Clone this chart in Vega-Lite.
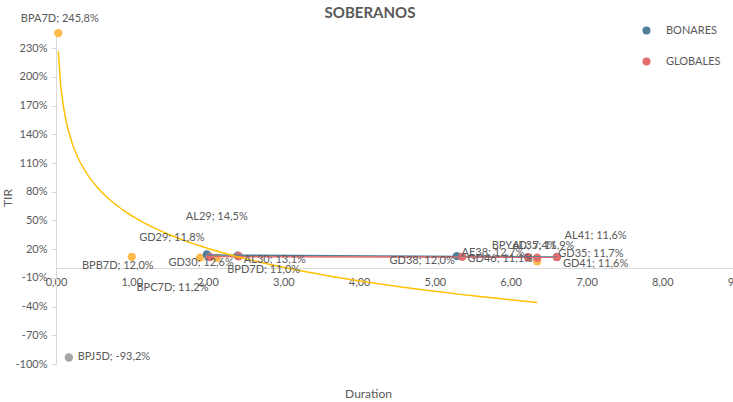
{
  "$schema": "https://vega.github.io/schema/vega-lite/v6.json",
  "width": 682,
  "height": 333,
  "autosize": {"type": "none"},
  "padding": {"left": 56, "top": 31, "right": -5, "bottom": 38},
  "background": "white",
  "config": {"view": {"stroke": null}, "font": "Lato"},
  "title": {"text": "SOBERANOS", "fontSize": 15, "fontWeight": "bold", "color": "#595959", "font": "Lato", "anchor": "middle", "frame": "group", "dx": -27, "offset": 10, "baseline": "bottom", "dy": 33},
  "data": {"values": [
    {"name": "BPJ5D", "series": "OTROS", "duration": 0.17, "tir": -93.2},
    {"name": "BPA7D", "series": "BOPREAL", "duration": 0.03, "tir": 245.8},
    {"name": "BPB7D", "series": "BOPREAL", "duration": 1.0, "tir": 12.0},
    {"name": "BPC7D", "series": "BOPREAL", "duration": 1.9, "tir": 11.2},
    {"name": "BPD7D", "series": "BOPREAL", "duration": 2.12, "tir": 11.0},
    {"name": "BPY6D", "series": "BOPREAL", "duration": 6.35, "tir": 7.4},
    {"name": "AL29", "series": "BONARES", "duration": 1.99, "tir": 14.5},
    {"name": "AL30", "series": "BONARES", "duration": 2.4, "tir": 13.1},
    {"name": "AE38", "series": "BONARES", "duration": 5.29, "tir": 12.7},
    {"name": "AL41", "series": "BONARES", "duration": 6.23, "tir": 11.6},
    {"name": "AL35", "series": "BONARES", "duration": 6.61, "tir": 11.9},
    {"name": "GD29", "series": "GLOBALES", "duration": 2.03, "tir": 11.8},
    {"name": "GD30", "series": "GLOBALES", "duration": 2.41, "tir": 12.6},
    {"name": "GD38", "series": "GLOBALES", "duration": 5.36, "tir": 12.0},
    {"name": "GD41", "series": "GLOBALES", "duration": 6.23, "tir": 11.6},
    {"name": "GD46", "series": "GLOBALES", "duration": 6.35, "tir": 11.1},
    {"name": "GD35", "series": "GLOBALES", "duration": 6.61, "tir": 11.7}
  ]},
  "transform": [
    {"calculate": "datum.name + '; ' + (datum.tir < 0 ? '-' : '') + replace(format(abs(datum.tir), '.1f'), '.', ',') + '%'", "as": "label"}
  ],
  "encoding": {
    "x": {"field": "duration", "type": "quantitative",
      "scale": {"domain": [0, 9], "nice": false, "zero": false},
      "axis": {"values": [0, 1, 2, 3, 4, 5, 6, 7, 8, 9], "labelExpr": "replace(format(datum.value, '.2f'), '.', ',')", "offset": -96, "grid": false, "ticks": false, "domainColor": "#D9D9D9", "labelColor": "#595959", "labelFontSize": 11, "labelPadding": 8, "labelFlush": false, "labelOverlap": false, "title": "Duration", "titleFontSize": 12, "titleFontWeight": "normal", "titleColor": "#595959", "titleX": 312, "titleY": 125, "titleBaseline": "middle", "titleAlign": "center"}},
    "y": {"field": "tir", "type": "quantitative",
      "scale": {"domain": [-100, 248], "nice": false, "zero": false},
      "axis": {"values": [-100, -70, -40, -10, 20, 50, 80, 110, 140, 170, 200, 230], "labelExpr": "datum.value + '%'", "grid": false, "tickSize": 5, "tickColor": "#D9D9D9", "domainColor": "#D9D9D9", "labelColor": "#595959", "labelFontSize": 11, "labelPadding": 4, "title": "TIR", "titleFontSize": 12, "titleFontWeight": "normal", "titleColor": "#595959", "titlePadding": 0}}
  },
  "layer": [
    {"mark": {"type": "circle", "size": 70, "opacity": 1},
     "encoding": {"color": {"field": "series", "type": "nominal",
       "scale": {"domain": ["BONARES", "GLOBALES", "BOPREAL", "OTROS"], "range": ["#4E8098", "#E46C6C", "#FFBA4C", "#A6A6A6"]},
       "legend": {"values": ["BONARES", "GLOBALES"], "title": null, "orient": "none", "legendX": 585, "legendY": -6, "symbolType": "circle", "symbolSize": 64, "symbolStrokeWidth": 0, "labelFontSize": 11, "labelColor": "#595959", "labelOffset": 14, "rowPadding": 19, "padding": 0}}}},
    {"transform": [{"filter": "datum.series === 'BONARES'"}, {"regression": "tir", "on": "duration", "method": "linear"}],
     "mark": {"type": "line", "color": "#4E8098", "strokeWidth": 1.5}},
    {"transform": [{"filter": "datum.series === 'GLOBALES'"}, {"regression": "tir", "on": "duration", "method": "linear"}],
     "mark": {"type": "line", "color": "#E46C6C", "strokeWidth": 1.5}},
    {"transform": [{"filter": "datum.series === 'BOPREAL'"}, {"regression": "tir", "on": "duration", "method": "log"}],
     "mark": {"type": "line", "color": "#FFC000", "strokeWidth": 1.5}},
    {"transform": [{"filter": "datum.name === 'BPA7D'"}], "mark": {"type": "text", "fontSize": 11, "color": "#595959", "dx": 1.5, "dy": -14}, "encoding": {"text": {"field": "label"}}},
    {"transform": [{"filter": "datum.name === 'BPJ5D'"}], "mark": {"type": "text", "fontSize": 11, "color": "#595959", "dx": 45, "dy": 0}, "encoding": {"text": {"field": "label"}}},
    {"transform": [{"filter": "datum.name === 'BPB7D'"}], "mark": {"type": "text", "fontSize": 11, "color": "#595959", "dx": -14, "dy": 9.5}, "encoding": {"text": {"field": "label"}}},
    {"transform": [{"filter": "datum.name === 'BPC7D'"}], "mark": {"type": "text", "fontSize": 11, "color": "#595959", "dx": -27.5, "dy": 30.5}, "encoding": {"text": {"field": "label"}}},
    {"transform": [{"filter": "datum.name === 'BPD7D'"}], "mark": {"type": "text", "fontSize": 11, "color": "#595959", "dx": 47, "dy": 12.5}, "encoding": {"text": {"field": "label"}}},
    {"transform": [{"filter": "datum.name === 'AL29'"}], "mark": {"type": "text", "fontSize": 11, "color": "#595959", "dx": 10, "dy": -37}, "encoding": {"text": {"field": "label"}}},
    {"transform": [{"filter": "datum.name === 'GD29'"}], "mark": {"type": "text", "fontSize": 11, "color": "#595959", "dx": -38, "dy": -19}, "encoding": {"text": {"field": "label"}}},
    {"transform": [{"filter": "datum.name === 'AL30'"}], "mark": {"type": "text", "fontSize": 11, "color": "#595959", "dx": 37, "dy": 4.5}, "encoding": {"text": {"field": "label"}}},
    {"transform": [{"filter": "datum.name === 'GD30'"}], "mark": {"type": "text", "fontSize": 11, "color": "#595959", "dx": -37.5, "dy": 7}, "encoding": {"text": {"field": "label"}}},
    {"transform": [{"filter": "datum.name === 'AE38'"}], "mark": {"type": "text", "fontSize": 11, "color": "#595959", "dx": 36, "dy": -3}, "encoding": {"text": {"field": "label"}}},
    {"transform": [{"filter": "datum.name === 'GD38'"}], "mark": {"type": "text", "fontSize": 11, "color": "#595959", "dx": -40, "dy": 4.5}, "encoding": {"text": {"field": "label"}}},
    {"transform": [{"filter": "datum.name === 'AL41'"}], "mark": {"type": "text", "fontSize": 11, "color": "#595959", "dx": 67.5, "dy": -21}, "encoding": {"text": {"field": "label"}}},
    {"transform": [{"filter": "datum.name === 'GD41'"}], "mark": {"type": "text", "fontSize": 11, "color": "#595959", "dx": 67.5, "dy": 7}, "encoding": {"text": {"field": "label"}}},
    {"transform": [{"filter": "datum.name === 'GD46'"}], "mark": {"type": "text", "fontSize": 11, "color": "#595959", "dx": -37, "dy": 1.6}, "encoding": {"text": {"field": "label"}}},
    {"transform": [{"filter": "datum.name === 'BPY6D'"}], "mark": {"type": "text", "fontSize": 11, "color": "#595959", "dx": -13, "dy": -15}, "encoding": {"text": {"field": "label"}}},
    {"transform": [{"filter": "datum.name === 'AL35'"}], "mark": {"type": "text", "fontSize": 11, "color": "#595959", "dx": -13.5, "dy": -10.5}, "encoding": {"text": {"field": "label"}}},
    {"transform": [{"filter": "datum.name === 'GD35'"}], "mark": {"type": "text", "fontSize": 11, "color": "#595959", "dx": 34, "dy": -3.5}, "encoding": {"text": {"field": "label"}}}
  ]
}
